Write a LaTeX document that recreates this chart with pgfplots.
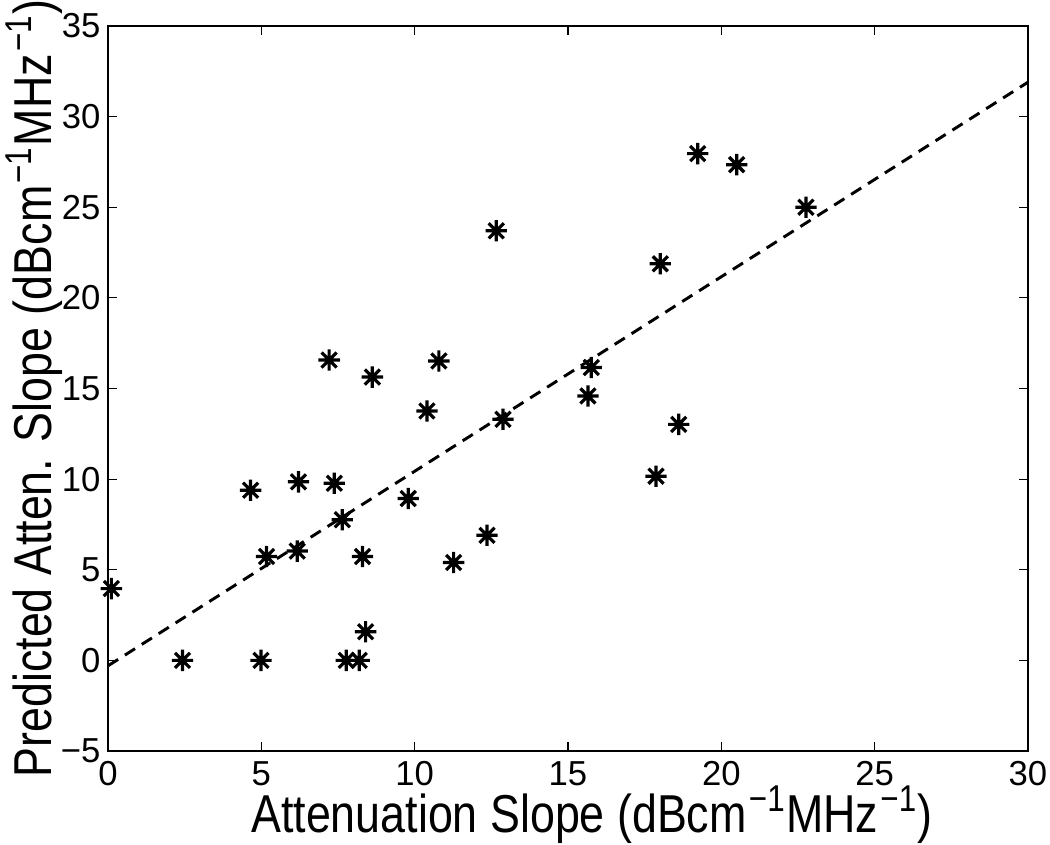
\documentclass[border=0pt]{standalone}
\usepackage{fontspec}
\setmainfont{Liberation Sans}
\newfontfamily\labfont[FakeStretch=0.84]{Liberation Sans}
\usepackage{pgfplots}
\pgfplotsset{compat=1.18}
\newcommand\sups{\hspace{0.04em}\raisebox{0.38em}{\fontsize{28}{28}\selectfont −1}\hspace{0.03em}}
\pgfdeclareplotmark{mstar}{%
  \pgfpathmoveto{\pgfqpoint{-\pgfplotmarksize}{0pt}}\pgfpathlineto{\pgfqpoint{\pgfplotmarksize}{0pt}}%
  \pgfpathmoveto{\pgfqpoint{0pt}{-\pgfplotmarksize}}\pgfpathlineto{\pgfqpoint{0pt}{\pgfplotmarksize}}%
  \pgfpathmoveto{\pgfqpoint{-0.707\pgfplotmarksize}{-0.707\pgfplotmarksize}}\pgfpathlineto{\pgfqpoint{0.707\pgfplotmarksize}{0.707\pgfplotmarksize}}%
  \pgfpathmoveto{\pgfqpoint{-0.707\pgfplotmarksize}{0.707\pgfplotmarksize}}\pgfpathlineto{\pgfqpoint{0.707\pgfplotmarksize}{-0.707\pgfplotmarksize}}%
  \pgfusepathqstroke}
\begin{document}
\begin{tikzpicture}
\useasboundingbox (-81pt,-69.75pt) rectangle (706.5pt,563.25pt);
\begin{axis}[
  at={(0,0)}, anchor=south west,
  scale only axis, width=690pt, height=543.75pt,
  xmin=0, xmax=30, ymin=-5, ymax=35,
  xtick={0,5,...,30}, ytick={-5,0,...,35},
  yticklabels={−5,0,5,10,15,20,25,30,35},
  tick align=inside, major tick length=6.5pt,
  axis line style={line width=0.8pt},
  tick style={line width=0.8pt, black},
  /pgf/number format/assume math mode=true,
  tick label style={font=\fontsize{26}{26}\selectfont, inner sep=0pt},
  xticklabel style={yshift=-7.5pt},
  yticklabel style={xshift=-5.5pt},
  label style={font=\labfont\fontsize{40}{40}\selectfont, inner sep=0pt},
  xlabel={Attenuation Slope (dBcm\sups MHz\sups)},
  ylabel={Predicted Atten. Slope (dBcm\sups MHz\sups)},
  xlabel style={at={(axis description cs:0.5,0)}, anchor=base, yshift=-60.75pt, xshift=18pt},
  ylabel style={at={(axis description cs:0,0.5)}, anchor=base, yshift=42pt},
  clip=false,
]
\addplot[black, line width=2.2pt, dash pattern=on 9pt off 6pt] coordinates {(0,-0.3) (30,31.9)};
\addplot[only marks, mark=mstar, mark size=8pt, mark options={line width=2.4pt, black}] coordinates {
(0.11,3.96) (2.43,0) (4.99,0) (4.65,9.39) (5.17,5.73) (6.21,9.85) (6.17,6.03)
(7.21,16.57) (7.38,9.77) (7.64,7.76) (7.77,0) (8.19,0) (8.30,5.73) (8.40,1.58)
(8.62,15.63) (9.79,8.93) (10.40,13.76) (10.79,16.52) (11.27,5.40) (12.36,6.9)
(12.66,23.7) (12.88,13.3) (15.65,14.59) (15.76,16.16) (17.87,10.16) (18.01,21.88)
(18.61,13.02) (19.23,27.96) (20.5,27.35) (22.76,25.0)
};
\end{axis}
\end{tikzpicture}
\end{document}
